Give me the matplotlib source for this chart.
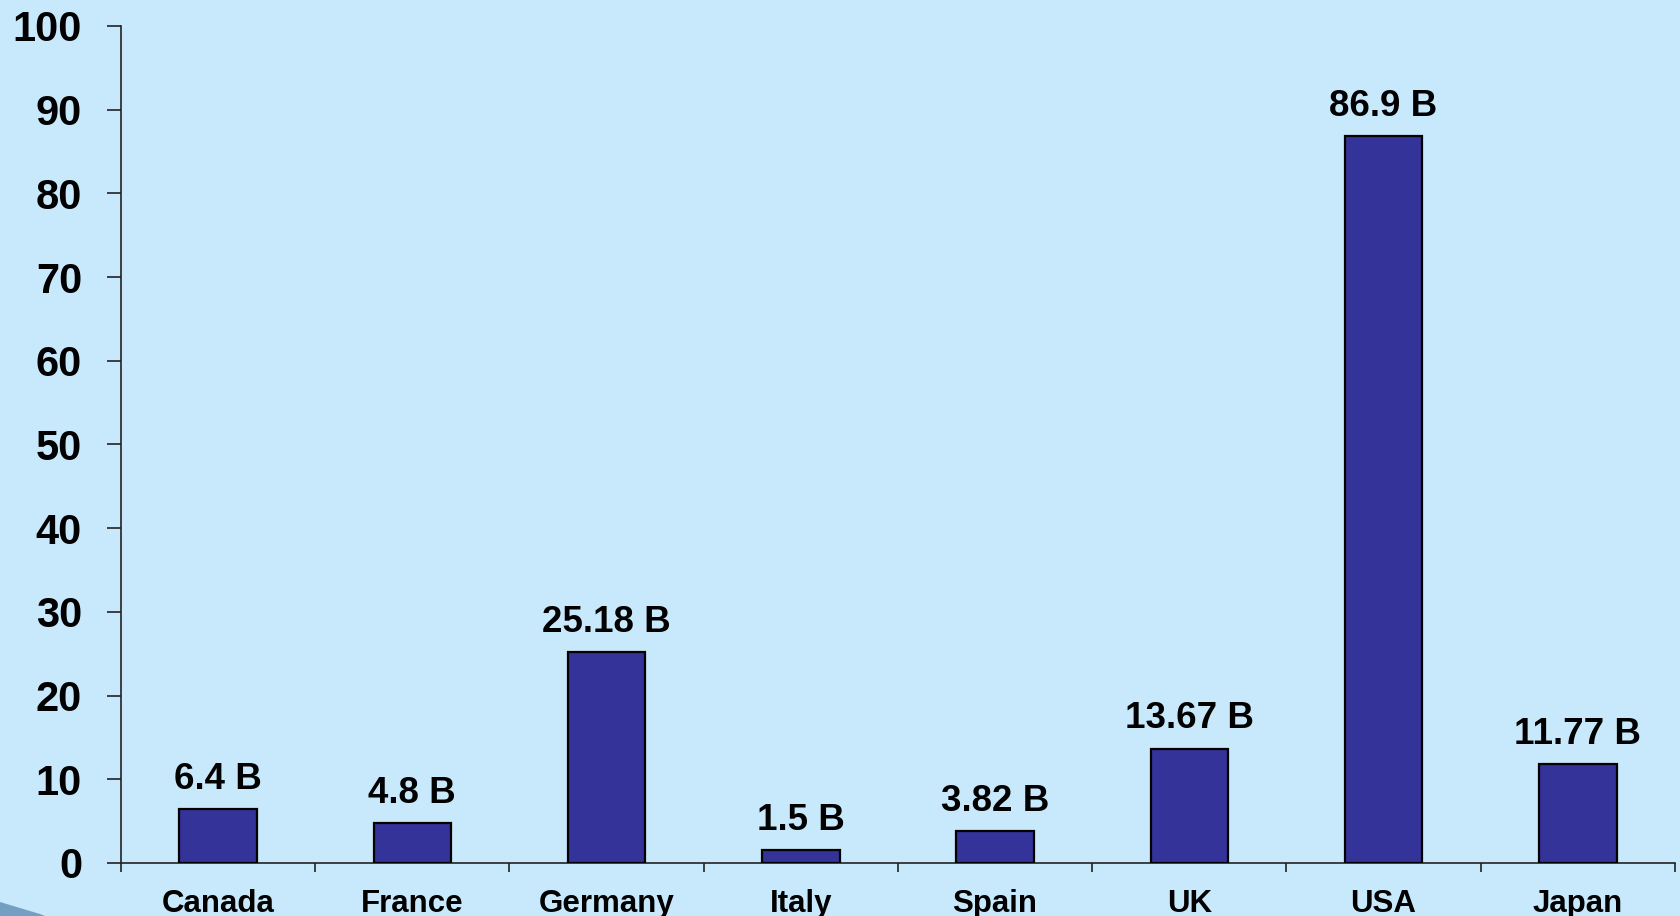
import numpy as np
import matplotlib.pyplot as plt
from matplotlib.patches import Polygon

# Dane
countries = ["Canada", "France", "Germany", "Italy", "Spain", "UK", "USA", "Japan"]
values = [6.4, 4.8, 25.18, 1.5, 3.82, 13.67, 86.9, 11.77]
labels = ["6.4 B", "4.8 B", "25.18 B", "1.5 B", "3.82 B", "13.67 B", "86.9 B", "11.77 B"]
yticks = [0, 10, 20, 30, 40, 50, 60, 70, 80, 90, 100]

bg = '#C8E9FC'
plt.rcParams['font.family'] = ['Liberation Sans', 'DejaVu Sans']
plt.rcParams['font.weight'] = 'bold'

fig = plt.figure(figsize=(16.81, 9.16), dpi=100, facecolor=bg)
ax = fig.add_axes([121 / 1681, 53 / 916, (1675 - 121) / 1681, (863 - 26) / 916])
ax.set_facecolor(bg)

x = np.arange(len(countries))
ax.bar(x, values, width=0.40, color='#333399', edgecolor='black', linewidth=1.6, zorder=3)

for xi, v, lab in zip(x, values, labels):
    ax.annotate(lab, (xi, v), xytext=(0, 14.5), textcoords='offset points',
                ha='center', va='baseline', fontsize=26.5, fontweight='bold', color='black')

ax.set_xlim(-0.5, len(countries) - 0.5)
ax.set_ylim(0, 100)
ax.set_yticks(yticks)
ax.set_yticklabels([str(t) for t in yticks], fontsize=30, fontweight='bold')
ax.tick_params(axis='y', length=10, width=1.2, pad=18, color='#222222')

ax.set_xticks(x)
ax.set_xticklabels(countries, fontsize=22.5, fontweight='bold')
ax.set_xticks(np.arange(-0.5, len(countries)), minor=True)
ax.tick_params(axis='x', which='major', length=0, pad=18.5)
ax.tick_params(axis='x', which='minor', length=6.5, width=1.2, color='#222222')

for s in ['top', 'right']:
    ax.spines[s].set_visible(False)
for s in ['left', 'bottom']:
    ax.spines[s].set_color('#222222')
    ax.spines[s].set_linewidth(1.2)

# ozdobny fragment w lewym dolnym rogu
corner = Polygon([[0, 0], [0, 14 / 916], [40 / 1681, 2 / 916], [45 / 1681, 0]],
                 closed=True, transform=fig.transFigure, facecolor='#5f8db5',
                 edgecolor='none', alpha=0.8)
fig.patches.append(corner)

fig.savefig('out.png', dpi=100, facecolor=bg)
